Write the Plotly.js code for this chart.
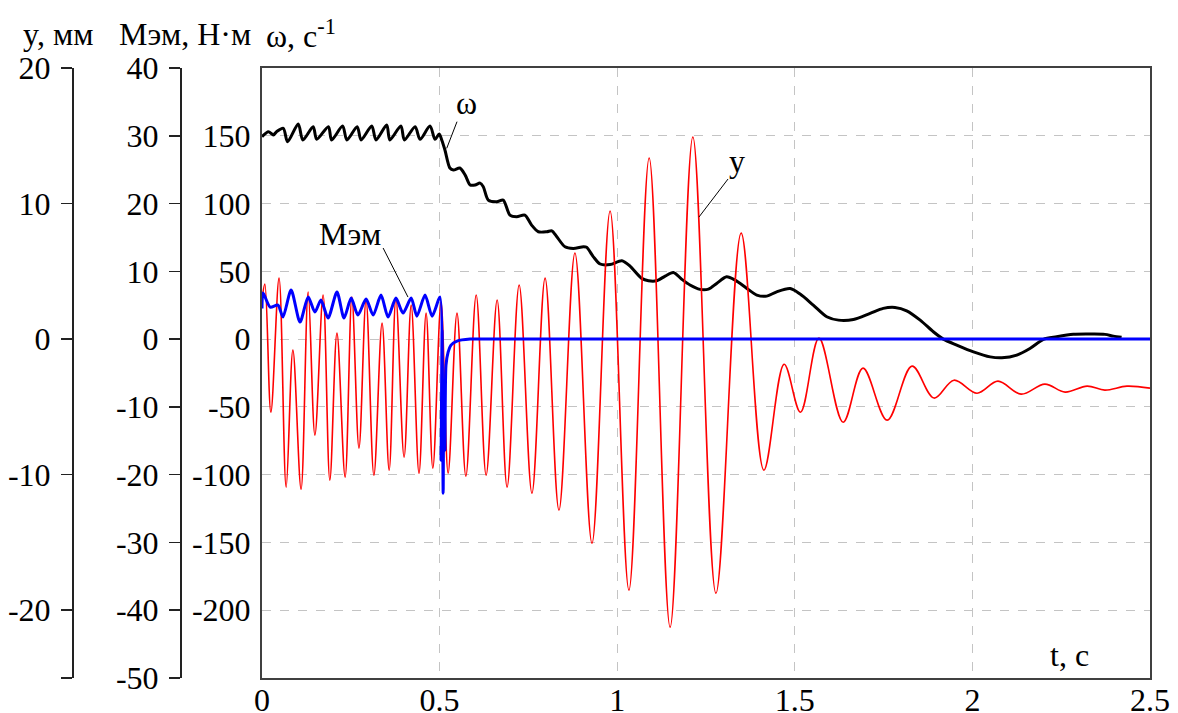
<!DOCTYPE html>
<html>
<head>
<meta charset="utf-8">
<script src="https://cdn.plot.ly/plotly-3.0.1.min.js"></script>
<style>html,body{margin:0;padding:0;background:#fff;}#chart{width:1178px;height:713px;}</style>
</head>
<body>
<div id="chart"></div>
<script>
// displacement y, mm (red)
const yT = [0,0.008,0.025,0.048,0.068,0.087,0.110,0.130,0.149,0.172,0.191,0.211,0.234,0.253,0.273,0.293,0.315,0.338,0.358,0.377,0.400,0.420,0.442,0.462,0.481,0.504,0.524,0.549,0.574,0.603,0.631,0.662,0.690,0.724,0.760,0.797,0.836,0.881,0.929,0.980,1.033,1.090,1.149,1.213,1.278,1.349,1.413,1.470,1.516,1.568,1.636,1.692,1.760,1.830,1.892,1.948,2.013,2.072,2.137,2.204,2.261,2.323,2.373,2.435,2.5];
const yV = [2.88,4.06,-5.39,4.50,-10.92,-0.81,-11.07,3.47,-7.08,3.25,-10.41,0.44,-10.18,3.10,-8.04,2.88,-10.04,1.18,-9.67,3.03,-8.71,2.51,-9.89,1.92,-9.52,2.73,-9.89,1.92,-10.11,3.25,-10.04,2.88,-10.92,3.99,-11.37,4.50,-12.62,6.35,-15.06,9.45,-18.52,13.36,-21.25,14.91,-18.75,7.82,-9.67,-1.85,-5.39,0.07,-6.13,-2.14,-5.98,-1.99,-4.35,-3.03,-3.99,-3.10,-4.06,-3.32,-3.91,-3.47,-3.76,-3.47,-3.62];
// electromagnetic torque M, N·m (blue)
const mT = [0,0.003,0.023,0.045,0.059,0.082,0.107,0.130,0.149,0.166,0.186,0.211,0.231,0.251,0.270,0.293,0.313,0.335,0.355,0.377,0.397,0.420,0.436,0.459,0.479,0.501,0.504,0.507,0.510,0.512,0.515,0.518,0.524,0.532,0.549,0.586,0.7,1.0,1.5,2.0,2.5];
const mV = [4.5,6.79,4.72,5.02,3.25,7.23,2.51,6.20,3.99,5.76,3.10,6.94,3.10,6.05,3.54,5.90,3.54,6.49,3.25,6.05,3.84,6.05,3.39,6.49,3.39,6.20,-17.86,1.33,-22.73,-6.05,-16.38,-3.84,-1.92,-0.89,-0.30,0,0,0,0,0,0];
// angular speed ω, 1/s (black)
const wT = [0,0.018,0.032,0.041,0.060,0.072,0.102,0.115,0.144,0.154,0.187,0.196,0.227,0.239,0.268,0.279,0.309,0.321,0.351,0.360,0.391,0.401,0.431,0.445,0.473,0.487,0.499,0.506,0.515,0.529,0.539,0.557,0.572,0.586,0.600,0.614,0.623,0.637,0.661,0.679,0.698,0.717,0.740,0.759,0.778,0.802,0.816,0.830,0.853,0.876,0.905,0.914,0.933,0.952,0.980,1.013,1.036,1.069,1.088,1.111,1.135,1.158,1.182,1.205,1.233,1.257,1.280,1.308,1.332,1.365,1.393,1.421,1.449,1.487,1.515,1.552,1.590,1.623,1.665,1.712,1.749,1.782,1.815,1.853,1.890,1.918,1.956,2.003,2.050,2.083,2.125,2.162,2.200,2.237,2.284,2.331,2.373,2.397,2.420];
const wV = [149.3,153.0,150.6,153.0,155.5,145.6,158.7,146.9,156.7,147.4,156.7,146.9,157.2,146.9,156.7,146.9,157.2,146.9,157.9,146.9,157.2,146.9,156.7,147.4,157.2,147.4,151.3,146.9,139.5,126.2,124.7,126.2,121.0,113.7,113.7,115.1,112.4,102.6,101.3,102.6,91.5,90.3,91.5,84.1,79.2,79.2,79.9,75.5,68.1,66.9,68.1,67.7,60.7,55.4,55.0,57.8,53.9,44.8,43.0,43.0,46.5,49.2,44.1,39.9,36.7,36.9,41.1,46.0,43.5,37.4,32.5,31.7,34.9,37.3,33.2,25.1,16.5,14.0,14.5,19.0,22.7,23.4,20.9,14.0,5.4,0,-4.4,-9.4,-13.1,-13.8,-11.8,-6.9,-0.2,1.7,3.5,3.7,3.5,2.2,1.3];

const xTicks = [0,0.5,1,1.5,2,2.5];
const xTickText = ['0','0.5','1','1.5','2','2.5'];
const wTicks = [-200,-150,-100,-50,0,50,100,150];
const yTicks = [-25,-20,-10,0,10,20];
const yTickText = [' ','-20','-10','0','10','20'];
const mTicks = [-50,-40,-30,-20,-10,0,10,20,30,40];

const FONT = '"Times New Roman", "Liberation Serif", Tinos, "DejaVu Serif", serif';
const FS = 32;
const W = 1150; // paper width (1178 - right margin)
const tf = () => ({family: FONT, size: FS, color: '#000'});

const traces = [
  {x: yT, y: yV, yaxis: 'y2', mode: 'lines', line: {color: '#ff0000', width: 1.6, shape: 'spline', smoothing: 1.0}, hoverinfo: 'skip'},
  {x: mT, y: mV, yaxis: 'y3', mode: 'lines', line: {color: '#0000ff', width: 3, shape: 'spline', smoothing: 0.7}, hoverinfo: 'skip'},
  {x: wT, y: wV, yaxis: 'y', mode: 'lines', line: {color: '#000000', width: 3, shape: 'spline', smoothing: 0.8}, hoverinfo: 'skip'}
];

const sideAxis = (pos, range, tickvals, ticktext, ticks, labels) => ({
  overlaying: 'y', anchor: 'free', position: pos, side: 'left',
  range: range, tickvals: tickvals, ticktext: ticktext,
  ticks: ticks, ticklen: 11, tickwidth: 1.5, tickcolor: '#222',
  showticklabels: labels, tickfont: tf(), ticklabelstandoff: 4,
  showline: labels, linecolor: '#222', linewidth: 1.5,
  showgrid: false, zeroline: false, fixedrange: true
});

const layout = {
  width: 1178, height: 713,
  margin: {l: 0, r: 28, t: 68, b: 35},
  paper_bgcolor: '#fff', plot_bgcolor: '#fff',
  showlegend: false,
  font: tf(),
  xaxis: {
    domain: [262 / W, 1], range: [0, 2.5],
    tickvals: xTicks, ticktext: xTickText, ticks: '', ticklen: 0, tickfont: tf(),
    ticklabelstandoff: -7,
    showgrid: true, gridcolor: '#c4c4c4', griddash: 'dash', gridwidth: 1,
    showline: true, mirror: true, linecolor: '#404040', linewidth: 2,
    zeroline: false, fixedrange: true
  },
  yaxis: {
    range: [-250, 200], tickvals: wTicks, ticktext: wTicks.map(String), ticks: '', ticklen: 0, tickfont: tf(),
    ticklabelstandoff: 3,
    showgrid: true, gridcolor: '#c4c4c4', griddash: 'dash', gridwidth: 1,
    showline: true, mirror: true, linecolor: '#404040', linewidth: 2,
    zeroline: false, fixedrange: true
  },
  yaxis2: sideAxis(72 / W, [-25, 20], yTicks, yTickText, 'outside', true),
  yaxis4: sideAxis(72 / W, [-25, 20], yTicks, yTickText, 'inside', false),
  yaxis3: sideAxis(180 / W, [-50, 40], mTicks, mTicks.map(String), 'outside', true),
  yaxis5: sideAxis(180 / W, [-50, 40], mTicks, mTicks.map(String), 'inside', false),
  shapes: [
    {type: 'line', xref: 'x', yref: 'y', x0: 0.549, y0: 160.4, x1: 0.520, y1: 140.7, line: {color: '#000', width: 1}},
    {type: 'line', xref: 'x', yref: 'y', x0: 0.341, y0: 67.2, x1: 0.411, y1: 31.0, line: {color: '#000', width: 1}},
    {type: 'line', xref: 'x', yref: 'y', x0: 1.312, y0: 118.1, x1: 1.230, y1: 90.0, line: {color: '#000', width: 1}}
  ],
  annotations: [
    {xref: 'paper', yref: 'paper', x: 58 / W, y: (678 - 34) / 610, text: 'y, мм', showarrow: false, font: tf(), xanchor: 'center', yanchor: 'middle'},
    {xref: 'paper', yref: 'paper', x: 185 / W, y: (678 - 34) / 610, text: 'Мэм, Н·м', showarrow: false, font: tf(), xanchor: 'center', yanchor: 'middle'},
    {xref: 'paper', yref: 'paper', x: 264 / W, y: (678 - 34) / 610, text: 'ω, с<sup>-1</sup>', showarrow: false, font: tf(), xanchor: 'left', yanchor: 'middle'},
    {xref: 'x', yref: 'y', x: 0.577, y: 174.2, text: 'ω', showarrow: false, font: tf()},
    {xref: 'x', yref: 'y', x: 1.337, y: 131.4, text: 'y', showarrow: false, font: tf()},
    {xref: 'x', yref: 'y', x: 0.248, y: 77.5, text: 'Мэм', showarrow: false, font: tf()},
    {xref: 'x', yref: 'y', x: 2.272, y: -233.2, text: 't, с', showarrow: false, font: tf()}
  ]
};

Plotly.newPlot('chart', traces, layout, {staticPlot: true, displayModeBar: false});
</script>
</body>
</html>
